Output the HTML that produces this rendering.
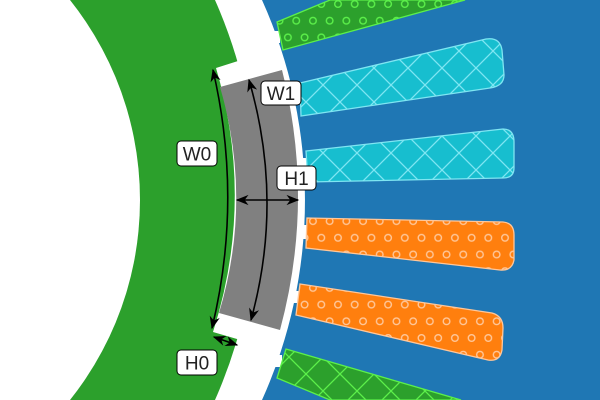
<!DOCTYPE html>
<html><head><style>html,body{margin:0;padding:0;background:#fff;overflow:hidden;width:600px;height:400px}svg{display:block}</style></head>
<body>
<svg width="600" height="400" viewBox="0 0 600 400" xmlns="http://www.w3.org/2000/svg">
<defs>
<pattern id="dg" width="16.7" height="33.4" patternUnits="userSpaceOnUse">
<circle cx="4" cy="4" r="3.3" fill="none" stroke="#5cf04a" stroke-width="1.4"/>
<circle cx="12.35" cy="20.7" r="3.3" fill="none" stroke="#5cf04a" stroke-width="1.4"/></pattern>
<pattern id="do" width="16.7" height="33.4" patternUnits="userSpaceOnUse">
<circle cx="4" cy="4" r="3.3" fill="none" stroke="#ffc79a" stroke-width="1.4"/>
<circle cx="12.35" cy="20.7" r="3.3" fill="none" stroke="#ffc79a" stroke-width="1.4"/></pattern>
<pattern id="xc" width="34" height="34" patternUnits="userSpaceOnUse">
<path d="M0,0L34,34M34,0L0,34" stroke="#7fe6f2" stroke-width="1.3"/></pattern>
<pattern id="xg" width="34" height="34" patternUnits="userSpaceOnUse">
<path d="M0,0L34,34M34,0L0,34" stroke="#5cf04a" stroke-width="1.3"/></pattern>
<marker id="ah" viewBox="0 0 10 10" refX="9" refY="5" markerWidth="8" markerHeight="8" orient="auto-start-reverse"><path d="M0,1L10,5L0,9L3,5Z" fill="#000"/></marker>
</defs>
<rect width="600" height="400" fill="#fff"/>
<circle cx="-237.6" cy="200" r="494.8" fill="#2ca02c"/>
<circle cx="-180.7" cy="200" r="320.7" fill="#fff"/>
<path d="M238,61 L216,68 Q255,200 213,332 L237,339 L340,339 L340,61 Z" fill="#fff"/>
<path d="M262,0 A487,487 0 0 1 262,400 L600,400 L600,0 Z" fill="#1f77b4"/>
<g fill="#fff">
<rect x="268" y="31" width="12" height="12"/>
<rect x="290" y="93" width="12" height="11"/>
<rect x="296" y="158" width="12" height="9"/>
<rect x="298" y="225" width="10" height="14"/>
<rect x="290" y="291" width="10" height="12"/>
<rect x="272" y="355" width="10" height="12"/>
</g>
<path d="M220,87 L282,70 Q315,200 280,330 L219,313 Q253,200 220,87 Z" fill="#808080"/>
<g stroke-width="1.3">
<path d="M277,22 L330,0 L465,0 L283,50 Z" fill="#2ca02c" stroke="#5cf04a"/>
<path d="M277,22 L330,0 L465,0 L283,50 Z" fill="url(#dg)"/>
<path d="M300,83 L486,39 Q500,37 502,50 L504,75 Q504,86 490,88 L301,116 Z" fill="#17becf" stroke="#7fe6f2"/>
<path d="M300,83 L486,39 Q500,37 502,50 L504,75 Q504,86 490,88 L301,116 Z" fill="url(#xc)"/>
<path d="M306,151 L503,129 Q514,129 514,142 L514,168 Q514,178 503,178 L308,182 Z" fill="#17becf" stroke="#7fe6f2"/>
<path d="M306,151 L503,129 Q514,129 514,142 L514,168 Q514,178 503,178 L308,182 Z" fill="url(#xc)"/>
<path d="M307,218 L503,222 Q514,223 514,235 L514,260 Q512,271 500,270 L306,248 Z" fill="#ff7f0e" stroke="#ffc79a"/>
<path d="M307,218 L503,222 Q514,223 514,235 L514,260 Q512,271 500,270 L306,248 Z" fill="url(#do)"/>
<path d="M300,284 L492,313 Q503,316 503,328 L502,350 Q500,362 488,360 L296,315 Z" fill="#ff7f0e" stroke="#ffc79a"/>
<path d="M300,284 L492,313 Q503,316 503,328 L502,350 Q500,362 488,360 L296,315 Z" fill="url(#do)"/>
<path d="M286,349 L461,400 L330,400 L277,378 Z" fill="#2ca02c" stroke="#5cf04a"/>
<path d="M286,349 L461,400 L330,400 L277,378 Z" fill="url(#xg)"/>
</g>
<g stroke="#000" stroke-width="1.6" fill="none">
<path d="M213,70 Q243,200 212,328" marker-start="url(#ah)" marker-end="url(#ah)"/>
<path d="M249,80 Q284,200 251,320" marker-start="url(#ah)" marker-end="url(#ah)"/>
<path d="M237,200 L298,200" marker-start="url(#ah)" marker-end="url(#ah)"/>
<path d="M214,337 L237,345" marker-start="url(#ah)" marker-end="url(#ah)"/>
</g>
<g font-family="Liberation Sans, sans-serif" font-size="19" text-anchor="middle" fill="#222">
<rect x="177" y="141" width="40" height="25" rx="4" fill="#fff" stroke="#000"/>
<text x="197" y="160.5">W0</text>
<rect x="261" y="81" width="40" height="24" rx="4" fill="#fff" stroke="#000"/>
<text x="281" y="100">W1</text>
<rect x="277" y="166" width="39" height="24" rx="4" fill="#fff" stroke="#000"/>
<text x="296.5" y="185">H1</text>
<rect x="177" y="350" width="40" height="25" rx="4" fill="#fff" stroke="#000"/>
<text x="197" y="369.5">H0</text>
</g>
</svg>
</body></html>
